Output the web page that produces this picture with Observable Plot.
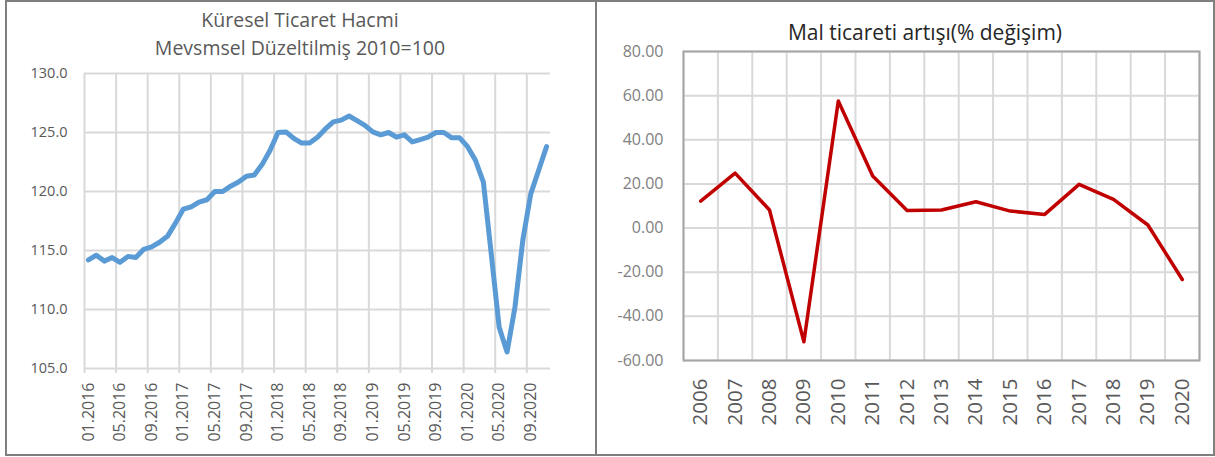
<!DOCTYPE html>
<html>
<head>
<meta charset="utf-8">
<script src="https://cdn.jsdelivr.net/npm/d3@7"></script>
<script src="https://cdn.jsdelivr.net/npm/@observablehq/plot@0.6"></script>
<style>
body{margin:0;background:#fff;font-family:"Open Sans",sans-serif;}
#wrap{position:relative;width:1215px;height:457px;overflow:hidden;background:#fff;}
.panel{position:absolute;box-sizing:border-box;border:2px solid #7f7f7f;top:0;height:456px;pointer-events:none;z-index:2;}
.chart{position:absolute;top:0;}
.title{position:absolute;text-align:center;white-space:nowrap;z-index:3;font-family:"Open Sans",sans-serif;}
</style>
</head>
<body>
<div id="wrap">
  <div class="chart" id="c1" style="left:0px"></div>
  <div class="chart" id="c2" style="left:597px"></div>
  <div class="title" style="left:0px;width:600px;top:6px;font-size:19.5px;line-height:28.4px;color:#595959">Küresel Ticaret Hacmi<br>Mevsmsel Düzeltilmiş 2010=100</div>
  <div class="title" style="left:725px;width:400px;top:19px;font-size:21px;line-height:27px;color:#262626">Mal ticareti artışı(% değişim)</div>
  <div class="panel" style="left:5px;width:592px"></div>
  <div class="panel" style="left:595px;width:620px"></div>
</div>
<script>
// ---- Left chart data: Küresel Ticaret Hacmi (2010=100), monthly ----
const months = [
  "01.2016","02.2016","03.2016","04.2016","05.2016","06.2016","07.2016","08.2016","09.2016","10.2016","11.2016","12.2016",
  "01.2017","02.2017","03.2017","04.2017","05.2017","06.2017","07.2017","08.2017","09.2017","10.2017","11.2017","12.2017",
  "01.2018","02.2018","03.2018","04.2018","05.2018","06.2018","07.2018","08.2018","09.2018","10.2018","11.2018","12.2018",
  "01.2019","02.2019","03.2019","04.2019","05.2019","06.2019","07.2019","08.2019","09.2019","10.2019","11.2019","12.2019",
  "01.2020","02.2020","03.2020","04.2020","05.2020","06.2020","07.2020","08.2020","09.2020","10.2020","11.2020"
];
const volume = [
  114.2,114.6,114.1,114.4,114.0,114.5,114.4,115.1,115.3,115.7,116.2,117.3,
  118.5,118.7,119.1,119.3,120.0,120.0,120.45,120.8,121.3,121.4,122.3,123.5,
  125.0,125.05,124.5,124.1,124.1,124.6,125.3,125.9,126.05,126.4,126.0,125.6,
  125.05,124.8,125.0,124.6,124.8,124.2,124.4,124.6,125.0,125.0,124.55,124.55,
  123.8,122.65,120.8,114.7,108.5,106.4,110.2,115.9,119.8,121.8,123.8
];
const volumeTicks = [105, 110, 115, 120, 125, 130];
const monthLabelEvery = 4;

// ---- Right chart data: Mal ticareti artışı (% değişim), yearly ----
const years = ["2006","2007","2008","2009","2010","2011","2012","2013","2014","2015","2016","2017","2018","2019","2020"];
const growth = [12.2, 24.9, 8.2, -51.5, 57.6, 23.6, 8.0, 8.2, 11.9, 7.7, 6.2, 19.8, 13.0, 1.4, -23.3];
const growthTicks = [-60, -40, -20, 0, 20, 40, 60, 80];

// ---- Left chart ----
const mi = d3.range(months.length);
const mLabeled = mi.filter(i => i % monthLabelEvery === 0);
const p1 = Plot.plot({
  width: 595, height: 457,
  marginLeft: 84, marginRight: 45, marginTop: 73, marginBottom: 89,
  style: {background: "transparent", fontFamily: "Open Sans, sans-serif"},
  x: {domain: [-0.5, months.length - 0.5]},
  y: {domain: [105, 130]},
  marks: [
    Plot.ruleY(volumeTicks, {stroke: "#d9d9d9", strokeWidth: 2}),
    Plot.ruleX(mLabeled, {x: i => i - 0.5, stroke: "#d9d9d9", strokeWidth: 2, insetBottom: -5}),
    Plot.axisY({ticks: volumeTicks, tickSize: 0, tickPadding: 17, tickFormat: d => d.toFixed(1), fontSize: 14.5, color: "#595959", label: null}),
    Plot.axisX({ticks: mLabeled, tickFormat: i => months[i], tickRotate: -90, tickSize: 0, tickPadding: 14, fontSize: 16, color: "#595959", label: null}),
    Plot.line(mi, {x: i => i, y: i => volume[i], stroke: "#5b9bd5", strokeWidth: 5, strokeLinejoin: "round", strokeLinecap: "round"})
  ]
});
document.getElementById("c1").appendChild(p1);

// ---- Right chart ----
const yi = d3.range(years.length);
const p2 = Plot.plot({
  width: 616, height: 457,
  marginLeft: 86, marginRight: 14, marginTop: 51, marginBottom: 97,
  style: {background: "transparent", fontFamily: "Open Sans, sans-serif"},
  x: {domain: [-0.5, years.length - 0.5]},
  y: {domain: [-60, 80]},
  marks: [
    Plot.ruleY(growthTicks, {stroke: "#d9d9d9", strokeWidth: 2}),
    Plot.ruleX(d3.range(years.length + 1), {x: i => i - 0.5, stroke: "#d9d9d9", strokeWidth: 2}),
    Plot.frame({stroke: "#a6a6a6", strokeWidth: 2}),
    Plot.axisY({ticks: growthTicks, tickSize: 0, tickPadding: 20, tickFormat: d => d.toFixed(2), fontSize: 16, color: "#808080", label: null}),
    Plot.axisX({ticks: yi, tickFormat: i => years[i], tickRotate: -90, tickSize: 0, tickPadding: 18, fontSize: 20.5, color: "#595959", label: null}),
    Plot.line(yi, {x: i => i, y: i => growth[i], stroke: "#c00000", strokeWidth: 3.5, strokeLinejoin: "round"})
  ]
});
document.getElementById("c2").appendChild(p2);
</script>
</body>
</html>
